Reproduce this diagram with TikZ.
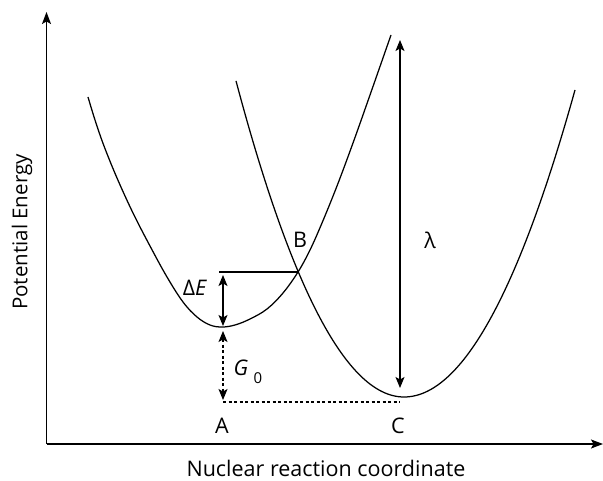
\documentclass[tikz,border=0pt]{standalone}
\usepackage{fontspec}
\setmainfont{Open Sans}
\usetikzlibrary{arrows.meta}
\begin{document}
\begin{tikzpicture}[x=1pt,y=-1pt,
  curve/.style={line width=1.25pt},
  axis/.style={line width=1.3pt,-{Stealth[length=12pt,width=9pt,inset=2.5pt]}},
  dbl/.style={line width=1.3pt,{Stealth[length=11pt,width=9pt,inset=2.5pt]}-{Stealth[length=11pt,width=9pt,inset=2.5pt]}},
  dashdbl/.style={line width=1.3pt,dash pattern=on 3pt off 2.5pt,{Stealth[length=11pt,width=9pt,inset=2.5pt]}-{Stealth[length=11pt,width=9pt,inset=2.5pt]}},
  lbl/.style={font=\fontsize{21.5}{24}\selectfont,inner sep=0pt}]
\useasboundingbox (0,0) rectangle (603,481);
% axes
\coordinate (O) at (46.5,444);
\coordinate (ytop) at (46.5,12);
\coordinate (xend) at (603,444);
\draw[axis] (O) -- (ytop);
\draw[axis] (O) -- (xend);
% left parabola
\draw[curve] plot[smooth,tension=0.6] coordinates {(88,97) (95,120) (104,146) (117,178) (133,213) (150,246) (167,277) (183,302) (197,317) (210,325) (222,327) (235,325) (250,319) (267,309) (283,293) (298,272) (310,250) (322,223) (337,186) (353,143) (370,95) (391,35)};
% right parabola
\draw[curve] plot[domain=236:404,samples=60,smooth] (\x,{397-112*((\x-404)/100)^2})
  -- plot[domain=404:575,samples=60,smooth] (\x,{397-105*((\x-404)/100)^2});
% construction
\coordinate (Bx) at (298,272);
\coordinate (hl) at (219,272);
\draw[line width=1.2pt] (hl) -- (Bx);
\coordinate (de1) at (223,275);
\coordinate (de2) at (223,326);
\draw[dbl] (de1) -- (de2);
\coordinate (g1) at (223,331);
\coordinate (g2) at (223,400);
\draw[dashdbl] (g1) -- (g2);
\coordinate (dA) at (223,402);
\coordinate (dC) at (400,402);
\draw[line width=1.2pt,dash pattern=on 3pt off 2.5pt] (dA) -- (dC);
\coordinate (l1) at (400,40);
\coordinate (l2) at (400,388);
\draw[dbl] (l1) -- (l2);
% labels
\node[lbl] (B) at (300,240) {B};
\node[lbl] (A) at (222,426) {A};
\node[lbl] (C) at (398,426) {C};
\node[lbl] (lam) at (430,240) {λ};
\node[lbl] (dE) at (195,288) {Δ\textit{E}};
\node[lbl] (G) at (241,368) {\textit{G}};
\node[font=\fontsize{15}{17}\selectfont,inner sep=0pt] (G0) at (258,378) {0};
\node[lbl] (xl) at (326,468) {Nuclear reaction coordinate};
\node[lbl,font=\fontsize{20.5}{23}\selectfont,rotate=90] (yl) at (22,232) {Potential Energy};
\end{tikzpicture}
\end{document}
